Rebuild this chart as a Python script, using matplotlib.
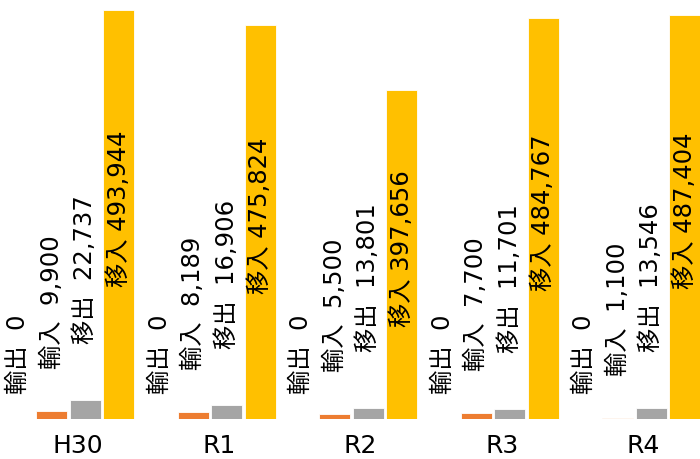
import matplotlib
matplotlib.use("Agg")
import matplotlib.pyplot as plt
import numpy as np

plt.rcParams['font.family'] = ['DejaVu Sans', 'Noto Sans CJK JP']

categories = ["H30", "R1", "R2", "R3", "R4"]
series_names = ["輸出", "輸入", "移出", "移入"]
export_vals = [0, 0, 0, 0, 0]
import_vals = [9900, 8189, 5500, 7700, 1100]
shipout_vals = [22737, 16906, 13801, 11701, 13546]
shipin_vals = [493944, 475824, 397656, 484767, 487404]
series_values = [export_vals, import_vals, shipout_vals, shipin_vals]
colors = ["#4472C4", "#ED7D31", "#A5A5A5", "#FFC000"]

fig = plt.figure(figsize=(7, 4.6), dpi=100)
ax = fig.add_axes([0, 40 / 460, 1, 420 / 460])

step = 33.5 / 141.5
width = 31 / 141.5
label_offsets_px = [26, 43, 57]
fs = 17.5

x = np.arange(len(categories))
for j, (name, vals, col) in enumerate(zip(series_names, series_values, colors)):
    xs = x + (j - 1.5) * step
    ax.bar(xs, vals, width=width, color=col, edgecolor="white", linewidth=0.6)
    for xi, v in zip(xs, vals):
        txt = f"{name}  {v:,}" if j < 3 else f"{name} {v:,}"
        if j < 3:
            ax.annotate(txt, (xi, v), xytext=(0, label_offsets_px[j]),
                        textcoords="offset pixels", rotation=90,
                        ha="center", va="bottom", fontsize=fs, color="#000000")
        else:
            ax.annotate(txt, (xi, v / 2), xytext=(0, 7),
                        textcoords="offset pixels", rotation=90,
                        ha="center", va="center", fontsize=fs, color="#000000")

ax.set_ylim(0, 507228)
ax.set_xlim(-68.5 / 141.5, 631.5 / 141.5)
ax.set_xticks(x + 9 / 141.5)
ax.set_xticklabels(categories, fontsize=18)
ax.tick_params(axis="x", length=0, pad=10)
ax.set_yticks([])
for s in ax.spines.values():
    s.set_visible(False)

fig.savefig("out.png", dpi=100)
